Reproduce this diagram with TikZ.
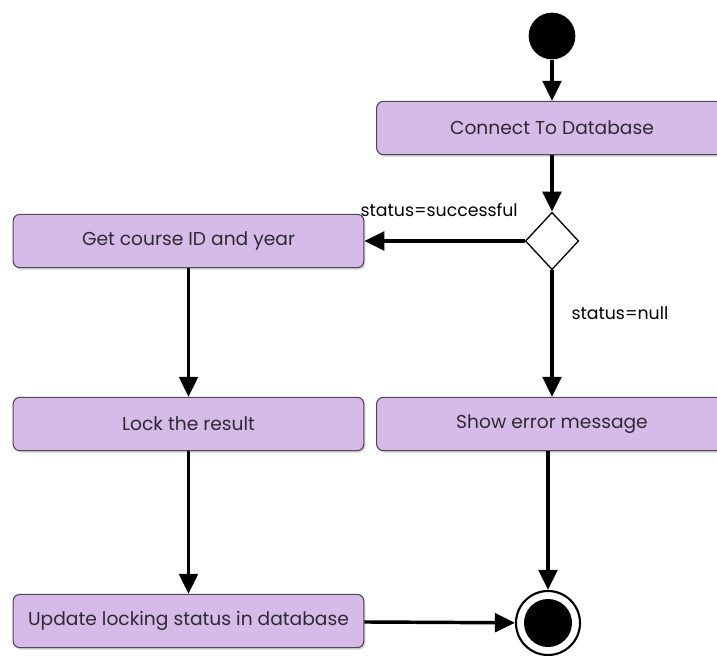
\documentclass[tikz,border=0pt]{standalone}
\usepackage{xcolor}
\usepackage{fontspec}
\setmainfont{Poppins}
\usepackage{tikz}
\usetikzlibrary{shapes.geometric, arrows.meta, shadows}
\definecolor{actfill}{HTML}{D6BAE8}
\definecolor{actline}{HTML}{4F4754}
\definecolor{acttext}{HTML}{2E2A33}
\tikzstyle{activity} = [rectangle, draw=actline, line width=0.8pt, fill=actfill, rounded corners=5pt, minimum width=263pt, minimum height=40pt, text=acttext, font=\fontsize{14}{16}\selectfont, drop shadow={opacity=0.35, shadow xshift=1.2pt, shadow yshift=-1.5pt}]
\tikzstyle{flow} = [line width=2.6pt, -{Triangle[length=15pt, width=14pt]}]
\tikzstyle{guard} = [font=\fontsize{13}{15}\selectfont, text=black]

\begin{document}
\begin{tikzpicture}[x=0.75pt, y=-0.75pt]
    \useasboundingbox (0,0) rectangle (717,656);
    % Start and decision
    \node [circle, fill=black, minimum size=35pt, inner sep=0pt] (start) at (552,36) {};
    \node [activity] (connect) at (552,128) {Connect To Database};
    \node [diamond, draw, fill=white, line width=1pt, minimum width=40pt, minimum height=43pt, inner sep=0pt] (decide) at (552,241) {};

    % Actions
    \node [activity] (getcourse) at (188.5,241) {Get course ID and year};
    \node [activity] (lock) at (188.5,424) {Lock the result};
    \node [activity] (showerror) at (552,424) {Show error message};
    \node [activity] (update) at (188.5,621) {Update locking status in database};

    % End
    \node [circle, draw=black, fill=white, line width=1.6pt, minimum size=48pt, inner sep=0pt] (final) at (548,623) {};
    \node [circle, fill=black, minimum size=36pt, inner sep=0pt] (finaldot) at (final.center) {};

    % Flows
    \draw [flow] (start) -- (connect);
    \draw [flow] (connect) -- (decide);
    \draw [flow] (decide) -- node[guard, above, yshift=14pt, xshift=-4pt] {status=successful} (getcourse);
    \draw [flow] (decide) -- node[guard, right, pos=0.34, xshift=10pt] {status=null} (showerror);
    \draw [flow] (getcourse) -- (lock);
    \draw [flow] (lock) -- (update);
    \draw [flow] (update) -- (final);
    \draw [flow] (showerror.south -| final) -- (final);
\end{tikzpicture}
\end{document}
